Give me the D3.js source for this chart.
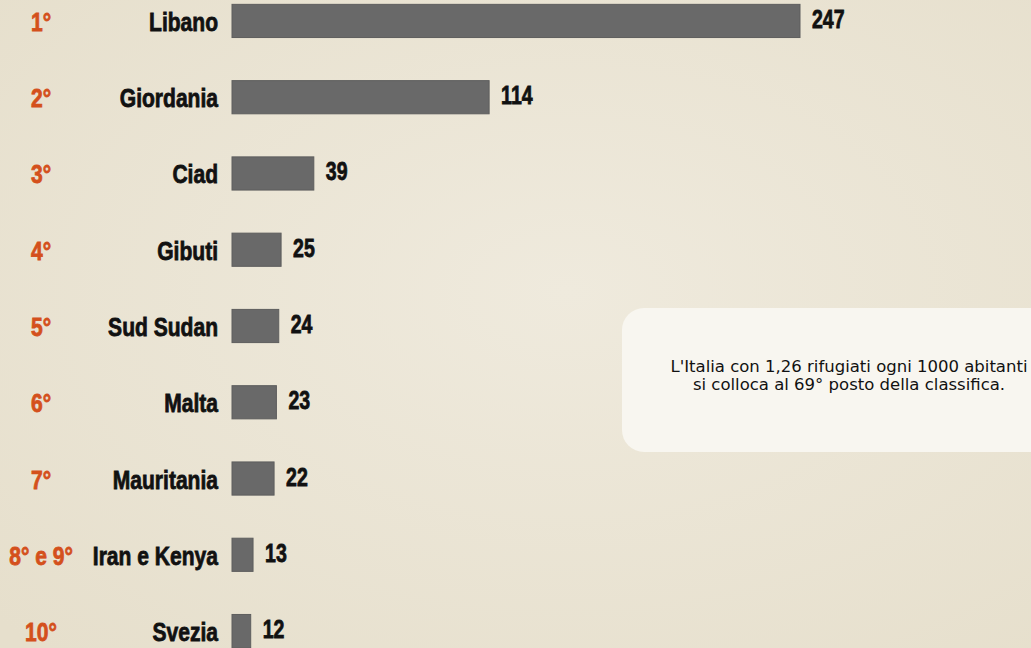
<!DOCTYPE html>
<html><head><meta charset="utf-8">
<script src="https://cdn.jsdelivr.net/npm/d3@7"></script>
<style>html,body{margin:0;padding:0;overflow:hidden;background:#ebe5d6}</style>
</head><body>
<script>
const ranks = ["1°","2°","3°","4°","5°","6°","7°","8° e 9°","10°"];
const countries = ["Libano","Giordania","Ciad","Gibuti","Sud Sudan","Malta","Mauritania","Iran e Kenya","Svezia"];
const values = [247,114,39,25,24,23,22,13,12];
const noteLines = ["L'Italia con 1,26 rifugiati ogni 1000 abitanti","si colloca al 69° posto della classifica."];

const W = 1031, H = 648;
const svg = d3.select("body").append("svg").attr("width", W).attr("height", H);
const defs = svg.append("defs");
const g = defs.append("radialGradient").attr("id","bg").attr("cx","55%").attr("cy","45%").attr("r","75%");
g.append("stop").attr("offset","0%").attr("stop-color","#efeadd");
g.append("stop").attr("offset","100%").attr("stop-color","#e6dfcc");
svg.append("rect").attr("width",W).attr("height",H).attr("fill","url(#bg)");

const data = countries.map((c,i)=>({c, r:ranks[i], v:values[i]}));
const y = d3.scaleBand().domain(countries).range([-17, 669]).paddingInner(0.565).paddingOuter(0.28);
const x = d3.scaleLinear().domain([4, 247]).range([232, 800]);

const font = "'Liberation Sans',Arial,sans-serif";

function condensed(cls, xf, yf, anchor, size, color, txt, sx){
  svg.selectAll("g."+cls).data(data).join("g").attr("class",cls)
    .attr("transform", d=>`translate(${xf(d)},${yf(d)}) scale(${sx},1)`)
    .append("text").attr("text-anchor",anchor).attr("font-family",font).attr("font-weight","bold")
    .attr("font-size",size).attr("fill",color).attr("stroke",color).attr("stroke-width",0.8)
    .text(txt);
}

svg.selectAll("rect.bar").data(data).join("rect").attr("class","bar")
  .attr("x", x(4)).attr("y", d=>y(d.c)).attr("width", d=>x(d.v)-x(4)).attr("height", y.bandwidth())
  .attr("fill","#696969").attr("stroke","#5e5e5e").attr("stroke-width",1);

condensed("country", d=>218, d=>y(d.c)+y.bandwidth()/2+10, "end", 26, "#111", d=>d.c, 0.81);
condensed("rank", d=>41, d=>y(d.c)+y.bandwidth()/2+10, "middle", 26, "#d4501c", d=>d.r, 0.81);
condensed("val", d=>x(d.v)+12, d=>y(d.c)+y.bandwidth()/2+7, "start", 25, "#111", d=>d.v, 0.78);

// note box
svg.append("rect").attr("x",622).attr("y",308).attr("width",440).attr("height",144)
  .attr("rx",22).attr("fill","#f8f6f0");
const t = svg.append("text").attr("x",849).attr("y",372).attr("text-anchor","middle")
  .attr("font-family","'DejaVu Sans',sans-serif").attr("font-size",16.5).attr("fill","#111");
noteLines.forEach((l,i)=>t.append("tspan").attr("x",849).attr("dy", i?17.5:0).text(l));
</script>
</body></html>
